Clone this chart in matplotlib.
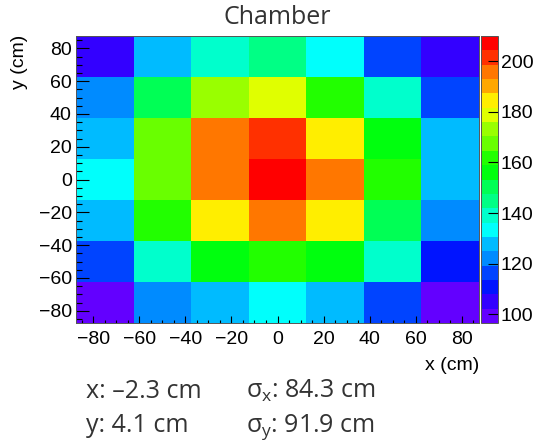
import colorsys
import numpy as np
import matplotlib.pyplot as plt
from matplotlib.colors import ListedColormap, Normalize
from matplotlib.ticker import MultipleLocator

# binning of the chamber map (cm)
x_edges = np.linspace(-87.5, 87.5, 8)
y_edges = np.linspace(-87.5, 87.5, 8)

# counts per bin, one list per row of bins, from bottom (y=-75) to top (y=75)
row_ym75 = [96.5, 122, 128, 134, 128, 116, 99]
row_ym50 = [116, 139, 156, 162, 156, 140, 111]
row_ym25 = [127, 162, 185, 196, 184, 151, 122]
row_y0 = [133, 168, 195, 210, 196, 161, 128]
row_yp25 = [128, 167, 196, 202, 184, 156, 127]
row_yp50 = [122, 150, 173, 179, 162, 139, 117]
row_yp75 = [104, 128, 139, 145, 133, 116, 106]
counts = np.array([row_ym75, row_ym50, row_ym25, row_y0, row_yp25, row_yp50, row_yp75])

xy_ticks = [-80, -60, -40, -20, 0, 20, 40, 60, 80]
z_ticks = [100, 120, 140, 160, 180, 200]

# fit results shown under the plot
mean_x, mean_y = -2.3, 4.1
sigma_x, sigma_y = 84.3, 91.9

plt.rcParams['font.family'] = ['Liberation Sans', 'DejaVu Sans']
plt.rcParams['mathtext.fontset'] = 'custom'
plt.rcParams['mathtext.rm'] = 'Open Sans'
plt.rcParams['mathtext.it'] = 'Open Sans'


# ROOT "pretty" palette (hue 280 -> 0), 20 contour levels picked from 50 colours
def root_palette(nlev=20, ncol=50):
    cols = []
    for k in range(nlev):
        j = int((k + 0.99) * ncol / nlev)
        hue = 0.0 if j >= ncol - 1 else 280 - (j + 1) * 280 / ncol
        cols.append(colorsys.hls_to_rgb(hue / 360, 0.5, 1.0))
    return ListedColormap(cols)


W, H = 537, 444
fig = plt.figure(figsize=(W / 100, H / 100), dpi=100)
ax = fig.add_axes([76 / W, 1 - 323 / H, 403 / W, 287 / H])
cax = fig.add_axes([481 / W, 1 - 323 / H, 17 / W, 287 / H])

cmap = root_palette()
norm = Normalize(vmin=counts.min(), vmax=counts.max())
mesh = ax.pcolormesh(x_edges, y_edges, counts, cmap=cmap, norm=norm)

ax.set_xlim(x_edges[0], x_edges[-1])
ax.set_ylim(y_edges[0], y_edges[-1])
ax.set_xticks(xy_ticks)
ax.set_yticks(xy_ticks)
ax.xaxis.set_minor_locator(MultipleLocator(5))
ax.yaxis.set_minor_locator(MultipleLocator(5))
ax.tick_params(axis='x', which='major', direction='in', length=5, width=0.8, pad=6, labelsize=14)
ax.tick_params(axis='x', which='minor', direction='in', length=2.5, width=0.8)
ax.tick_params(axis='y', which='major', direction='in', length=9, width=0.8, pad=3, labelsize=14)
ax.tick_params(axis='y', which='minor', direction='in', length=4.5, width=0.8)
for s in ax.spines.values():
    s.set_linewidth(0.7)
    s.set_color('#555555')

cb = fig.colorbar(mesh, cax=cax)
cb.set_ticks(z_ticks)
cb.ax.tick_params(direction='in', length=7, width=0.8, pad=2, labelsize=14)
cb.outline.set_linewidth(0.7)
cb.outline.set_edgecolor('#555555')

fig.text(277 / W, 1 - 17 / H, 'Chamber', family='Open Sans', fontsize=18,
         color='#333333', ha='center', va='center')
fig.text(20 / W, 1 - 35 / H, 'y (cm)', rotation=90, fontsize=14, ha='center', va='top')
fig.text(479 / W, 1 - 365 / H, 'x (cm)', fontsize=14, ha='right', va='center')

txt = dict(family='Open Sans', fontsize=18, color='#333333', va='baseline')
fig.text(86 / W, 1 - 398 / H, f'x: \u2013{abs(mean_x)} cm', **txt)
fig.text(86 / W, 1 - 432 / H, f'y: {mean_y} cm', **txt)
fig.text(246 / W, 1 - 398 / H, r'$\sigma_x$' + f': {sigma_x} cm', **txt)
fig.text(246 / W, 1 - 432 / H, r'$\sigma_y$' + f': {sigma_y} cm', **txt)

fig.savefig('out.png', dpi=100)
